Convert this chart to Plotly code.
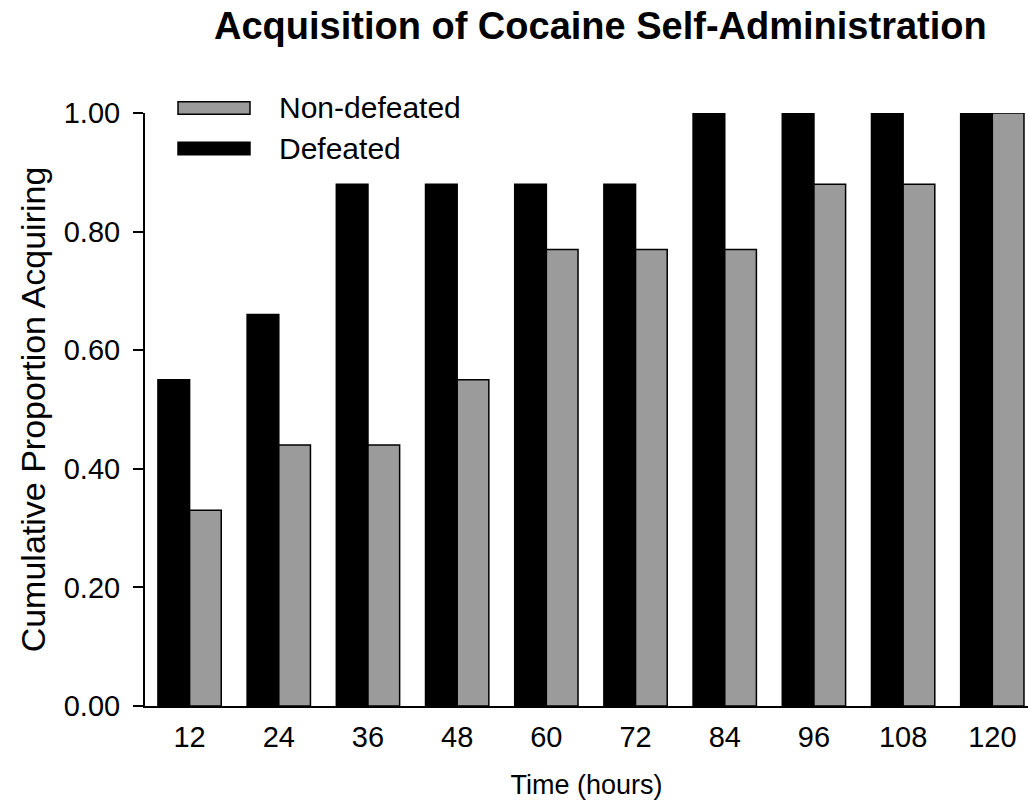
import plotly.graph_objects as go

hours = ["12", "24", "36", "48", "60", "72", "84", "96", "108", "120"]
defeated = [0.55, 0.66, 0.88, 0.88, 0.88, 0.88, 1.00, 1.00, 1.00, 1.00]
non_defeated = [0.33, 0.44, 0.44, 0.55, 0.77, 0.77, 0.77, 0.88, 0.88, 1.00]
y_ticks = [0.0, 0.2, 0.4, 0.6, 0.8, 1.0]

FONT = "Liberation Sans, Arial, sans-serif"
GRAY = "#9b9b9b"

fig = go.Figure()
fig.add_trace(go.Bar(name="Defeated", x=hours, y=defeated,
                     marker=dict(color="black", line=dict(color="black", width=1.5)),
                     showlegend=False))
fig.add_trace(go.Bar(name="Non-defeated", x=hours, y=non_defeated,
                     marker=dict(color=GRAY, line=dict(color="black", width=1.5)),
                     showlegend=False))

# legend drawn manually (wide swatches as in the original)
legend_items = [("Non-defeated", GRAY, 1.0085), ("Defeated", "black", 0.940)]
for name, col, yc in legend_items:
    fig.add_shape(type="rect", xref="paper", yref="paper",
                  x0=0.0374, x1=0.1189, y0=yc - 0.0105, y1=yc + 0.0105,
                  fillcolor=col, line=dict(color="black", width=1.5))
    fig.add_annotation(text=name, xref="paper", yref="paper", x=0.1495, y=yc,
                       xanchor="left", yanchor="middle", showarrow=False,
                       font=dict(family=FONT, size=30, color="black"))

fig.update_layout(
    width=1028, height=806,
    margin=dict(l=145, r=0, t=113, b=100, autoexpand=False),
    paper_bgcolor="white", plot_bgcolor="white",
    barmode="group", bargap=0.29, bargroupgap=0,
    font=dict(family=FONT, color="black"),
    title=dict(text="<b>Acquisition of Cocaine Self-Administration</b>",
               x=0.584, xanchor="center", xref="container",
               y=0.9677, yanchor="middle", yref="container",
               font=dict(family=FONT, size=38, color="black")),
)
fig.update_xaxes(type="category", range=[-0.5, 9.4], automargin=False,
                 showline=True, linecolor="black", linewidth=2,
                 ticks="", showgrid=False, zeroline=False, ticklabelstandoff=4,
                 tickfont=dict(family=FONT, size=29, color="black"),
                 title=dict(text="Time (hours)", standoff=23,
                            font=dict(family=FONT, size=27, color="black")))
fig.update_yaxes(range=[0, 1], tickvals=y_ticks, automargin=False,
                 ticktext=[f"{v:.2f}" for v in y_ticks],
                 showline=True, linecolor="black", linewidth=2,
                 ticks="outside", ticklen=10, tickwidth=2, tickcolor="black",
                 showgrid=False, zeroline=False, ticklabelstandoff=7,
                 tickfont=dict(family=FONT, size=29, color="black"),
                 title=dict(text="Cumulative Proportion Acquiring", standoff=8,
                            font=dict(family=FONT, size=34, color="black")))

fig.write_html("out.html", config={"displayModeBar": False},
               post_script="document.body.style.margin='0';document.body.style.overflow='hidden';")
